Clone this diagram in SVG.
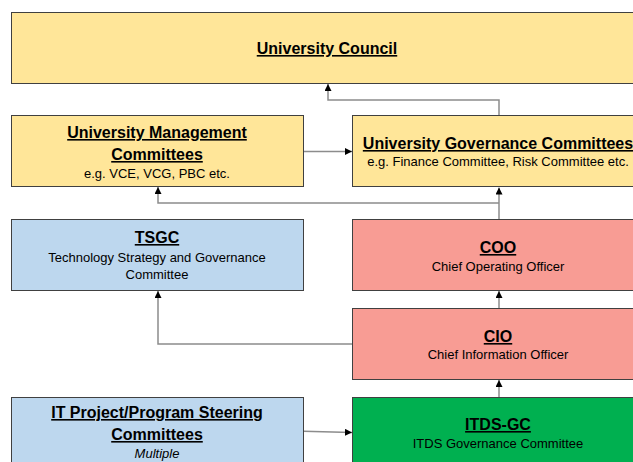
<svg xmlns="http://www.w3.org/2000/svg" width="633" height="462" viewBox="0 0 633 462">
<style>
.box{stroke:#404040;stroke-width:1}
.y{fill:#FFE699}.b{fill:#BDD7EE}.r{fill:#F89C94}.g{fill:#00B050}
text{font-family:"Liberation Sans",Arial,sans-serif;fill:#000;text-anchor:middle}
.t{font-size:16px;font-weight:bold;text-decoration:underline}
.s{font-size:13px}
.i{font-size:13px;font-style:italic}
.c{fill:none;stroke:#8c8c8c;stroke-width:1.5}
</style>
<defs>
<marker id="ah" viewBox="0 0 10 10" refX="10" refY="5" markerWidth="7" markerHeight="7" orient="auto" markerUnits="userSpaceOnUse">
<path d="M0,0 L10,5 L0,10 z" fill="#000"/>
</marker>
</defs>
<rect width="633" height="462" fill="#fff"/>
<g id="connectors">
<polyline class="c" points="499,115.5 499,100 328,100 328,84" marker-end="url(#ah)"/>
<line class="c" x1="303.5" y1="151.5" x2="352" y2="151.5" marker-end="url(#ah)"/>
<line class="c" x1="499" y1="219" x2="499" y2="187.5" marker-end="url(#ah)"/>
<polyline class="c" points="499,203 158,203 158,187" marker-end="url(#ah)"/>
<line class="c" x1="499" y1="308" x2="499" y2="291" marker-end="url(#ah)"/>
<polyline class="c" points="353,344 158,344 158,291" marker-end="url(#ah)"/>
<line class="c" x1="499" y1="397" x2="499" y2="380" marker-end="url(#ah)"/>
<line class="c" x1="303.5" y1="431.3" x2="352" y2="432.5" marker-end="url(#ah)"/>
</g>
<g id="council">
<rect class="box y" x="11.5" y="12.5" width="630" height="71"/>
<text class="t" x="327" y="54">University Council</text>
</g>
<g id="umc">
<rect class="box y" x="11.5" y="115.5" width="292" height="71"/>
<text class="t" x="157" y="138">University Management</text>
<text class="t" x="157" y="160">Committees</text>
<text class="s" x="157" y="178">e.g. VCE, VCG, PBC etc.</text>
</g>
<g id="ugc">
<rect class="box y" x="352.5" y="115.5" width="290" height="71"/>
<text class="t" x="498" y="149">University Governance Committees</text>
<text class="s" x="498" y="166">e.g. Finance Committee, Risk Committee etc.</text>
</g>
<g id="tsgc">
<rect class="box b" x="11.5" y="219.5" width="292" height="71"/>
<text class="t" x="157" y="243">TSGC</text>
<text class="s" x="157" y="262">Technology Strategy and Governance</text>
<text class="s" x="157" y="279">Committee</text>
</g>
<g id="coo">
<rect class="box r" x="352.5" y="219.5" width="290" height="71"/>
<text class="t" x="498" y="253">COO</text>
<text class="s" x="498" y="271">Chief Operating Officer</text>
</g>
<g id="cio">
<rect class="box r" x="352.5" y="308.5" width="290" height="71"/>
<text class="t" x="498" y="342">CIO</text>
<text class="s" x="498" y="359">Chief Information Officer</text>
</g>
<g id="itpsc">
<rect class="box b" x="11.5" y="397.5" width="292" height="71"/>
<text class="t" x="157" y="418">IT Project/Program Steering</text>
<text class="t" x="157" y="440">Committees</text>
<text class="i" x="157" y="458">Multiple</text>
</g>
<g id="itdsgc">
<rect class="box g" x="352.5" y="397.5" width="290" height="71"/>
<text class="t" x="498" y="430">ITDS-GC</text>
<text class="s" x="498" y="448">ITDS Governance Committee</text>
</g>
</svg>
